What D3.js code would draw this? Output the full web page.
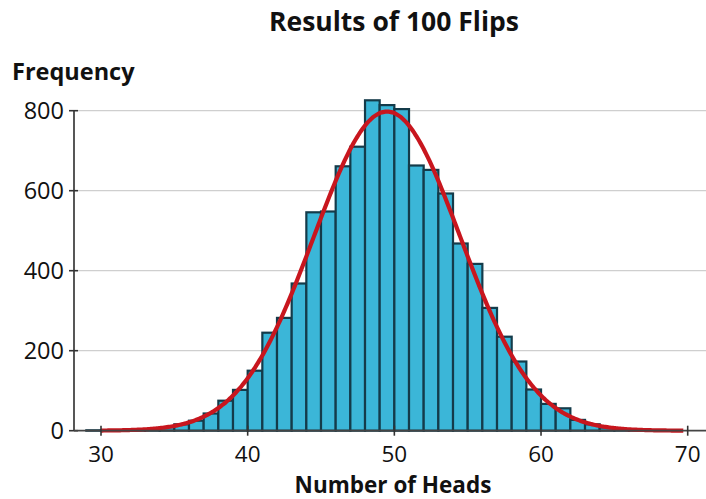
<!DOCTYPE html>
<html>
<head>
<meta charset="utf-8">
<script src="https://cdn.jsdelivr.net/npm/d3@7"></script>
<style>
  body { margin: 0; background: #fff; }
  svg { display: block; font-family: "Open Sans", sans-serif; }
</style>
</head>
<body>
<svg id="chart" width="706" height="499"></svg>
<script>
// ---- data ----
const binStarts = [29,30,31,32,33,34,35,36,37,38,39,40,41,42,43,44,45,46,47,48,
                   49,50,51,52,53,54,55,56,57,58,59,60,61,62,63,64,65,66,67,68];
const frequencies = [1,1,1,2,4,9,16,25,43,75,102,150,245,282,368,546,548,661,710,826,
                     814,804,663,652,593,468,417,307,235,173,103,67,56,27,16,8,4,2,1,1];
const xTicks = [30,40,50,60,70];
const yTicks = [0,200,400,600,800];
const curveMean = 49.5, curveSD = 5, curveTotal = 10000;
const curveRange = [30, 69.7];
const titleText = "Results of 100 Flips";
const xLabel = "Number of Heads";
const yLabel = "Frequency";

// ---- layout ----
const svg = d3.select("#chart");
const axisX = 74, baseY = 430.7;
const x = d3.scaleLinear().domain([30, 70]).range([101, 687.7]);
const y = d3.scaleLinear().domain([0, 800]).range([baseY, 110.7]);

// gridlines
svg.append("g").selectAll("line").data(yTicks.filter(d => d > 0)).join("line")
  .attr("x1", axisX + 4).attr("x2", 706)
  .attr("y1", d => y(d)).attr("y2", d => y(d))
  .attr("stroke", "#cfcfcf").attr("stroke-width", 1.2);

// bars
svg.append("g").selectAll("rect").data(binStarts.map((b, i) => ({b, v: frequencies[i]}))).join("rect")
  .attr("x", d => x(d.b)).attr("width", d => x(d.b + 1) - x(d.b))
  .attr("y", d => y(d.v)).attr("height", d => baseY - y(d.v))
  .attr("fill", "#3bb6d8").attr("stroke", "#143b4a").attr("stroke-width", 2.2);

// y axis
const yAxis = svg.append("g");
yAxis.append("line").attr("x1", axisX).attr("x2", axisX).attr("y1", y(800)).attr("y2", baseY)
  .attr("stroke", "#444").attr("stroke-width", 1.8);
yAxis.selectAll(".t").data(yTicks).join("line")
  .attr("x1", axisX - 5).attr("x2", axisX + 4)
  .attr("y1", d => y(d)).attr("y2", d => y(d))
  .attr("stroke", "#333").attr("stroke-width", 1.6);
yAxis.selectAll("text").data(yTicks).join("text")
  .attr("x", 64).attr("y", d => y(d)).attr("dy", "0.36em")
  .attr("text-anchor", "end").attr("font-size", 23.5).attr("fill", "#111")
  .text(d => d);

// curve
const curveX = d3.range(curveRange[0], curveRange[1] + 0.001, 0.1);
const pdf = v => curveTotal / (curveSD * Math.sqrt(2 * Math.PI)) * Math.exp(-0.5 * ((v - curveMean) / curveSD) ** 2);
svg.append("path").datum(curveX)
  .attr("d", d3.line().x(d => x(d)).y(d => y(pdf(d))).curve(d3.curveBasis))
  .attr("fill", "none").attr("stroke", "#c8161e").attr("stroke-width", 4.2);

// x axis
const xAxis = svg.append("g");
xAxis.append("line").attr("x1", axisX).attr("x2", 706).attr("y1", baseY).attr("y2", baseY)
  .attr("stroke", "#444").attr("stroke-width", 1.8);
xAxis.selectAll(".t").data(xTicks).join("line")
  .attr("x1", d => x(d)).attr("x2", d => x(d))
  .attr("y1", baseY - 5).attr("y2", baseY + 5)
  .attr("stroke", "#333").attr("stroke-width", 1.6);
xAxis.selectAll("text").data(xTicks).join("text")
  .attr("x", d => x(d)).attr("y", 462)
  .attr("text-anchor", "middle").attr("font-size", 22.5).attr("fill", "#111")
  .text(d => d);

// titles
svg.append("text").attr("x", 394).attr("y", 31).attr("text-anchor", "middle")
  .attr("font-size", 26.5).attr("font-weight", "bold").attr("fill", "#111").text(titleText);
svg.append("text").attr("x", 12).attr("y", 80)
  .attr("font-size", 23.5).attr("font-weight", "bold").attr("fill", "#111").text(yLabel);
svg.append("text").attr("x", 393).attr("y", 493).attr("text-anchor", "middle")
  .attr("font-size", 22.5).attr("font-weight", "bold").attr("fill", "#111").text(xLabel);
</script>
</body>
</html>
